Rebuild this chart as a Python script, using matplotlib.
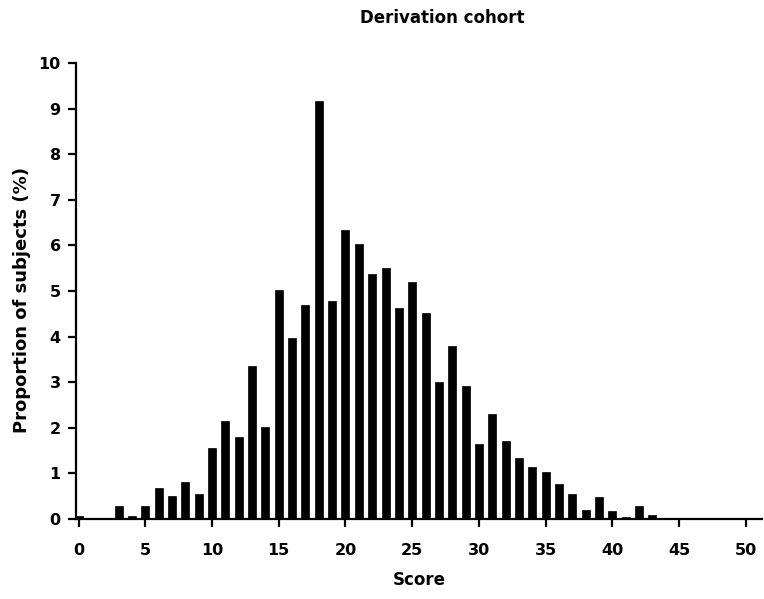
import matplotlib
matplotlib.use("Agg")
import matplotlib.pyplot as plt
import numpy as np

# Score values (0..45) and proportion of subjects (%)
scores = list(range(0, 46))
proportion = [
    0.06, 0.0, 0.02, 0.28, 0.07, 0.28, 0.67, 0.51, 0.81, 0.54,   # 0-9
    1.55, 2.15, 1.79, 3.35, 2.01, 5.02, 3.97, 4.70, 9.16, 4.78,  # 10-19
    6.33, 6.03, 5.37, 5.50, 4.62, 5.20, 4.52, 3.01, 3.80, 2.91,  # 20-29
    1.64, 2.31, 1.71, 1.34, 1.14, 1.02, 0.77, 0.54, 0.20, 0.49,  # 30-39
    0.18, 0.05, 0.28, 0.08, 0.03, 0.03,                          # 40-45
]
xticks = [0, 5, 10, 15, 20, 25, 30, 35, 40, 45, 50]
yticks = list(range(0, 11))

# wide bold font to mimic the letter-spaced Prism text
plt.rcParams['font.family'] = ['DejaVu Sans']
plt.rcParams['font.weight'] = 'bold'

fig = plt.figure(figsize=(7.64, 5.99), dpi=100)
ax = fig.add_axes([0.0995, 0.1336, 0.8975, 0.7614])

ax.bar(scores, proportion, width=0.6, color='black', edgecolor='black', linewidth=0.5)

ax.set_xlim(-0.2, 51.2)
ax.set_ylim(0, 10)
ax.set_xticks(xticks)
ax.set_yticks(yticks)
ax.tick_params(axis='both', direction='out', length=6, width=1.6, labelsize=11.5)
ax.tick_params(axis='x', pad=11)
ax.tick_params(axis='y', pad=5)
for lab in ax.get_xticklabels() + ax.get_yticklabels():
    lab.set_fontweight('bold')

for side in ['top', 'right']:
    ax.spines[side].set_visible(False)
for side in ['left', 'bottom']:
    ax.spines[side].set_linewidth(1.6)

ax.set_xlabel('Score', fontsize=12, fontweight='bold', labelpad=10)
ax.set_ylabel('Proportion of subjects (%)', fontsize=13, fontweight='bold')
ax.yaxis.set_label_coords(-0.066, 0.48)
fig.text(442 / 764, 1 - 18 / 599, 'Derivation cohort', ha='center', va='center',
         fontsize=12, fontweight='bold')

fig.savefig('out.png', dpi=100)
